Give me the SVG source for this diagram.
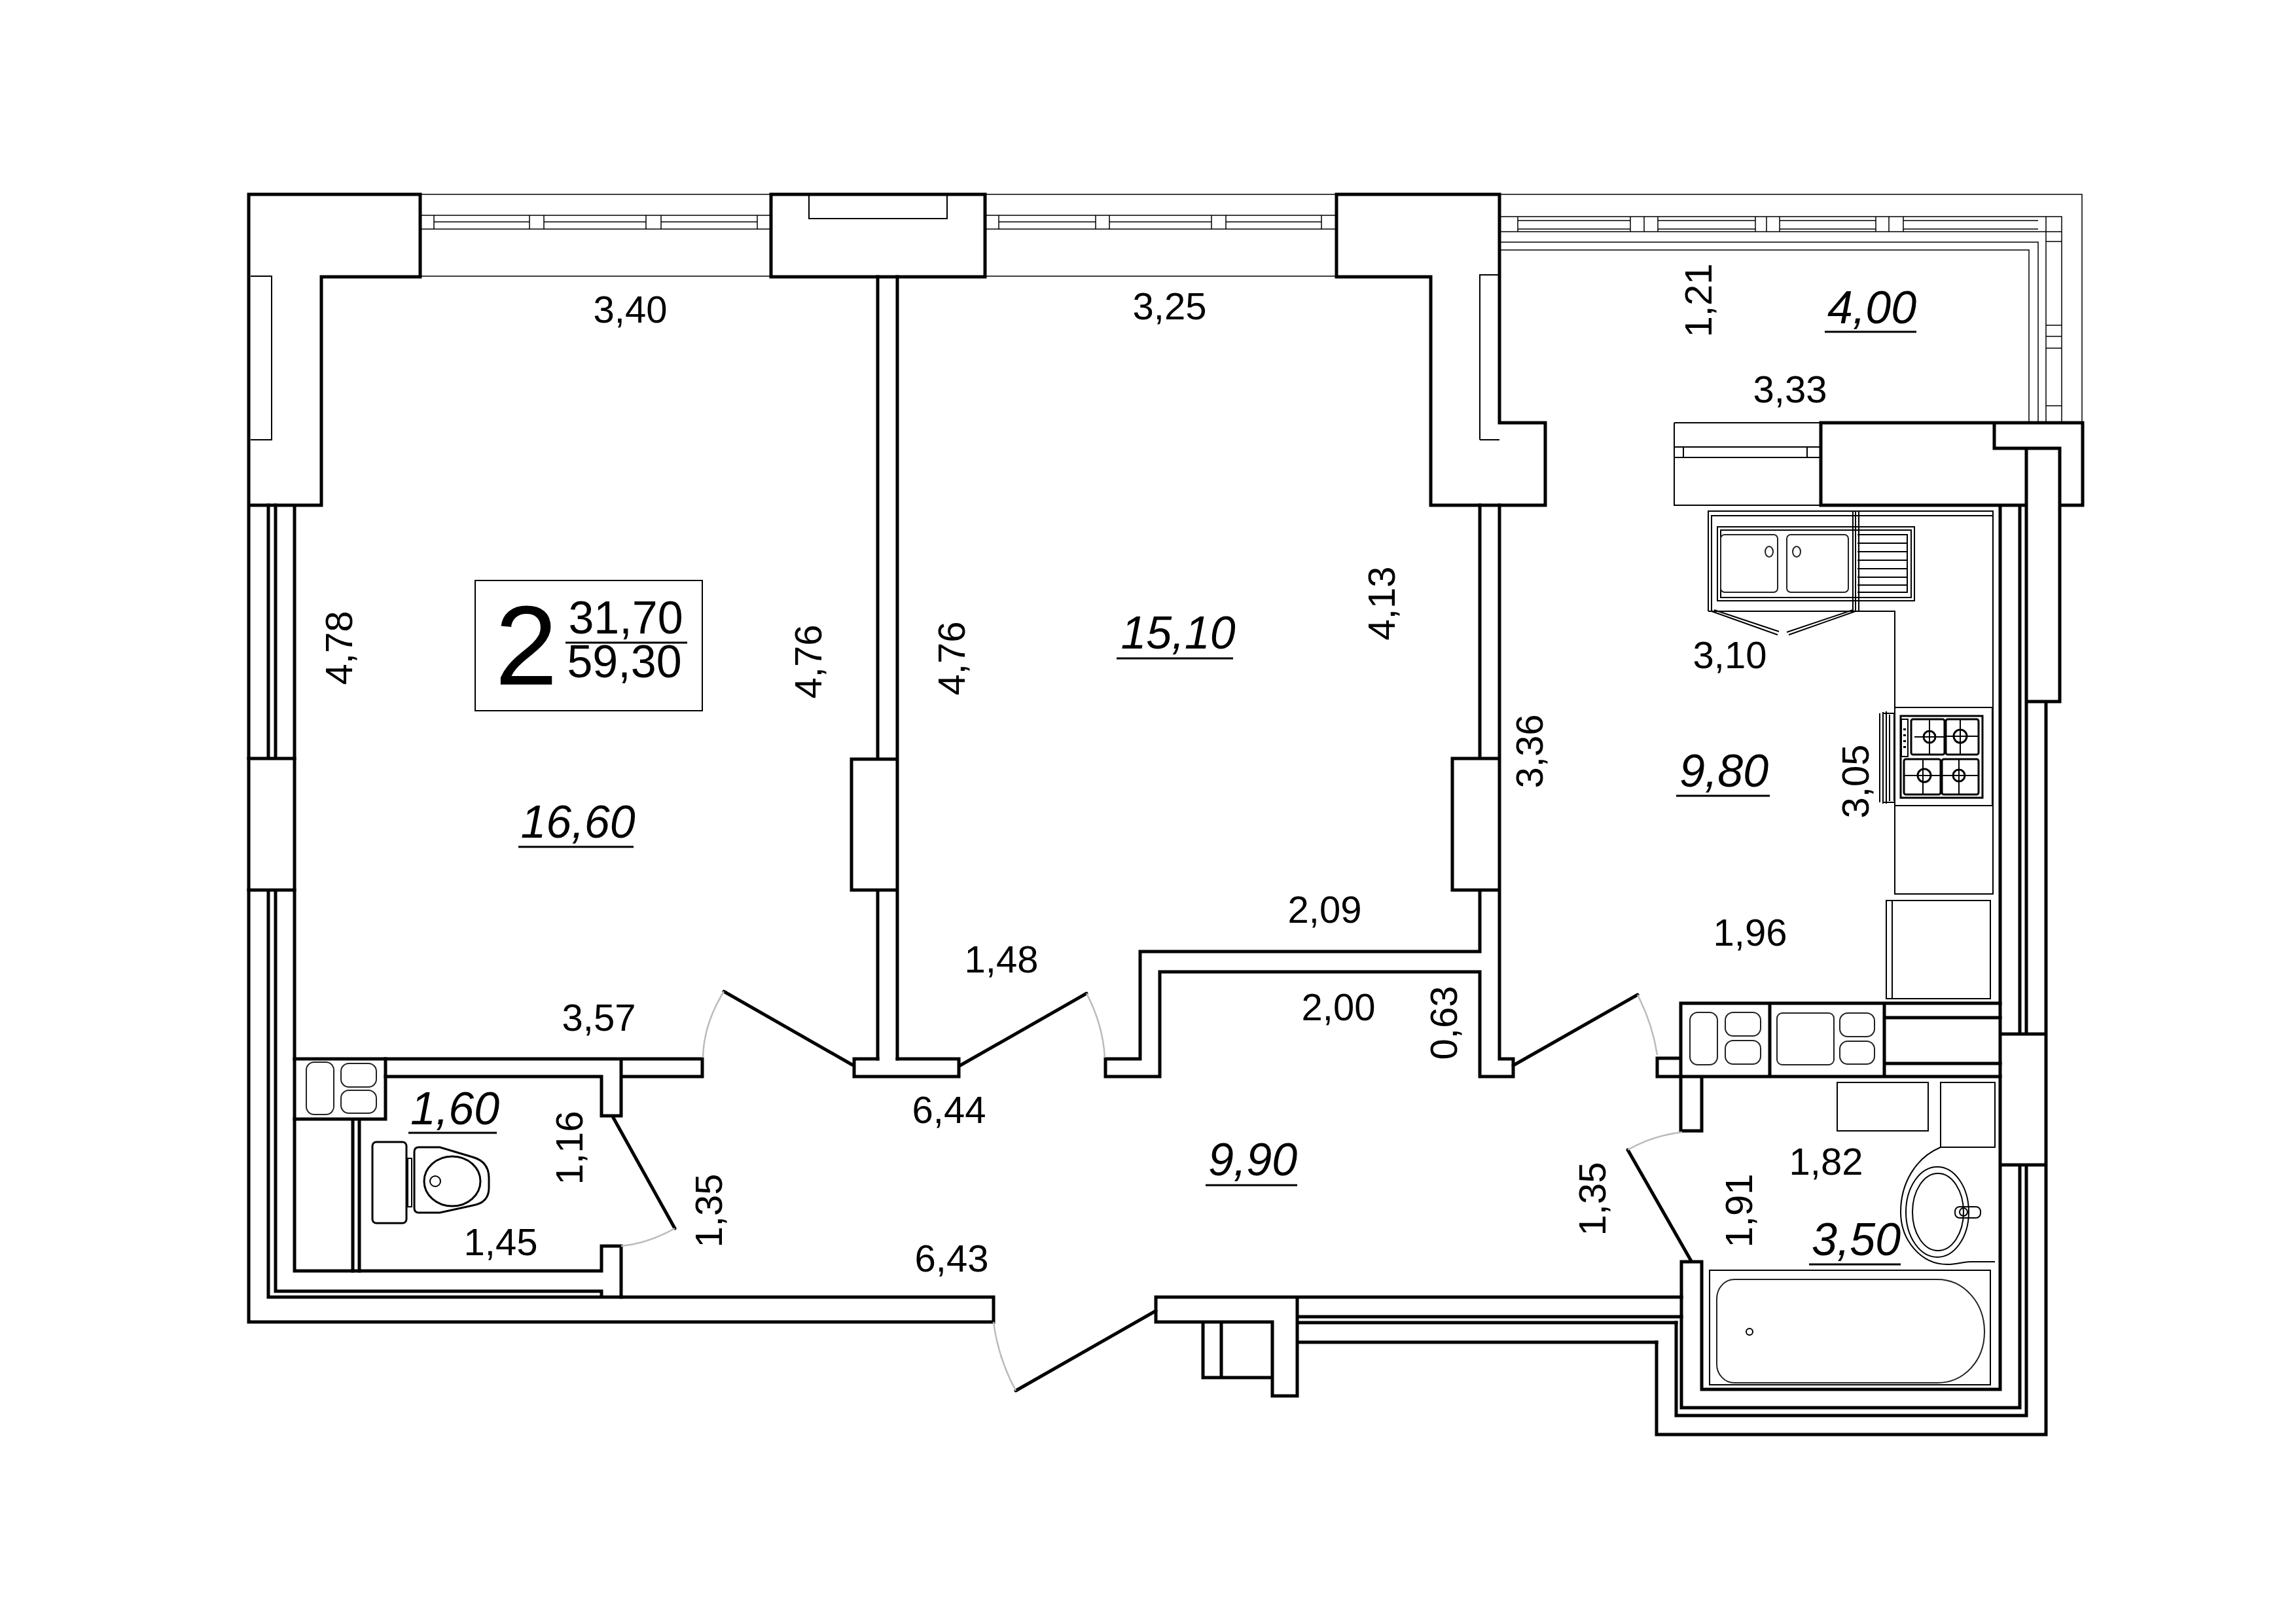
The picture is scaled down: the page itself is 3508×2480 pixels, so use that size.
<svg xmlns="http://www.w3.org/2000/svg" width="3508" height="2480" viewBox="0 0 3508 2480">
<style>
.w{fill:none;stroke:#000;stroke-width:5;stroke-linejoin:miter;stroke-linecap:square}
.m{fill:none;stroke:#000;stroke-width:3}
.t{fill:none;stroke:#000;stroke-width:2}
.h{fill:none;stroke:#000;stroke-width:1.5}
.f{fill:none;stroke:#222;stroke-width:2}
.a{fill:none;stroke:#bbb;stroke-width:2.5}
.d{fill:none;stroke:#000;stroke-width:5;stroke-linecap:round}
.l{font-family:"Liberation Sans",Arial,sans-serif;font-size:58px;fill:#000;text-anchor:middle}
.r{font-family:"Liberation Sans",Arial,sans-serif;font-size:70px;font-style:italic;fill:#000;text-anchor:middle}
.n{font-family:"Liberation Sans",Arial,sans-serif;font-size:70px;fill:#000;text-anchor:middle}
</style>
<rect width="3508" height="2480" fill="#fff"/>
<g id="windows">
<path class="h" d="M642,297H1178M642,422H1178M642,329H1178M642,350H1178M663,329V350M809,329V350M831,329V350M987,329V350M1010,329V350M1157,329V350M663,339H809M831,339H987M1010,339H1157"/>
<path class="h" d="M1505,297H2042M1505,422H2042M1505,329H2042M1505,350H2042M1526,329V350M1674,329V350M1695,329V350M1851,329V350M1873,329V350M2019,329V350M1526,339H1674M1695,339H1851M1873,339H2019"/>
<path class="t" d="M383,422H415V672H383M2261,672V420H2291M2261,672H2291M1236,297V334H1447V297"/>
<path class="h" d="M2291,297H3181V646M2291,331H3150V646M2291,354H3150M3126,331V646M2291,370H3114V646M2291,382H3100V646M2319,331V354M2491,331V354M2512,331V354M2533,331V354M2682,331V354M2699,331V354M2719,331V354M2866,331V354M2886,331V354M2908,331V354M2319,337H2491M2533,337H2682M2719,337H2866M2908,337H3114M2319,350H2491M2533,350H2682M2719,350H2866M2908,350H3114M3126,369H3150M3126,497H3150M3126,514H3150M3126,532H3150M3126,620H3150"/>
<path class="t" d="M2558,646H2782M2558,646V772H2782M2558,683H2782M2558,699H2782M2572,683V699M2761,683V699"/>
</g>
<g id="walls">
<path class="w" d="M642,297H380V2020H1518V1982H949V1904H919V1942H450V772M491,772H380M491,772V423H642V297"/>
<path class="w" d="M1178,297H1505V423H1178ZM2042,297H2291V646H2361V772H2186V423H2042Z"/>
<path class="w" d="M410,772V1159M421,772V1159M380,1159H450M380,1360H450M410,1360V1982H949M421,1360V1973H919V1981"/>
<path class="w" d="M1341,423V1160H1301V1360H1341V1618M1371,423V1618M1301,1160H1371M1301,1360H1371"/>
<path class="w" d="M450,1618H1073V1645H949M949,1618V1705H919V1645H589M1341,1618H1305V1645H1465V1618H1371"/>
<path class="w" d="M450,1710H589M589,1618V1710M539,1710V1942M549,1710V1942"/>
<path class="w" d="M1689,1618V1645H1772V1485H2261V1645H2312V1618H2291V772M1689,1618H1742V1454H2261V1360H2219V1159H2261V772M2219,1159H2291M2219,1360H2291"/>
<path class="w" d="M2782,646H3047V685H3096V772H2782ZM3047,646H3182V772H3147V685H3047M3096,772V1072H3147V772M3056,772V2123H2600V1928H2569V2151H3086V1780M3086,772V1580M3096,1072V1580M3126,1072V1580M3056,1580H3126V1780H3056M3096,1780V2163H2561V2021M3126,1780V2192H2531V2051"/>
<path class="w" d="M2568,1533H3056M2568,1533V1728H2600V1645M2568,1645H3056M2532,1617H2568M2532,1617V1645H2568M2704,1533V1645M2879,1533V1645M2881,1555H3056M2881,1625H3056"/>
<path class="w" d="M1766,1982H2569M1766,1982V2020H1944V2133H1982V1982M1982,2012H2569M1982,2021H2561M1982,2051H2531M1838,2020V2105H1944M1866,2020V2105"/>
</g>
<g id="doors">
<path class="d" d="M1302,1627L1106,1515M1467,1628L1660,1518M2312,1628L2502,1520M1766,2003L1552,2125"/>
<path class="d" d="M936,1706L1031,1877M2584,1927L2487,1757"/>
<path class="a" d="M1106,1515Q1075,1565 1074,1616M1660,1518Q1685,1565 1688,1616M2502,1520Q2525,1565 2532,1612M1552,2125Q1525,2075 1518,2020M1031,1877Q990,1900 949,1904M2487,1757Q2525,1735 2570,1730"/>
</g>
<g id="kitchen">
<path class="t" d="M2610,934V781H3045V1366H2895V934H2610M2615,934V788H3045"/>
<path class="t" d="M2831,781V934M2835,781V934M2840,781V934"/>
<rect class="t" x="2624" y="805" width="301" height="113"/>
<rect class="t" x="2629" y="810" width="291" height="103"/>
<rect class="f" x="2629" y="817" width="87" height="88" rx="6"/>
<rect class="f" x="2730" y="817" width="94" height="88" rx="6"/>
<ellipse class="f" cx="2703" cy="843" rx="6" ry="8"/><ellipse class="f" cx="2745" cy="843" rx="6" ry="8"/>
<path class="t" d="M2838,817H2914V905H2838M2838,830H2914M2838,843H2914M2838,856H2914M2838,869H2914M2838,882H2914M2838,894H2914M2914,817V905"/>
<path class="t" d="M2615,934L2716,970M2619,932L2718,965M2835,934L2733,970M2831,932L2730,966"/>
<rect class="t" x="2895" y="1081" width="149" height="150"/>
<rect class="m" x="2904" y="1094" width="125" height="125"/>
<rect class="m" x="2920" y="1099" width="51" height="54" rx="3"/><rect class="m" x="2973" y="1099" width="50" height="54" rx="3"/>
<rect class="m" x="2909" y="1160" width="56" height="54" rx="3"/><rect class="m" x="2967" y="1160" width="56" height="54" rx="3"/>
<path class="t" d="M2948,1099V1153M2925,1126H2971M2995,1099V1153M2973,1125H3023M2938,1160V1214M2909,1185H2965M2993,1160V1214M2967,1185H3023"/>
<circle class="m" cx="2948" cy="1126" r="9"/><circle class="m" cx="2995" cy="1125" r="10"/><circle class="m" cx="2940" cy="1185" r="10"/><circle class="m" cx="2993" cy="1185" r="9"/>
<rect class="t" x="2905" y="1099" width="10" height="57"/>
<path d="M2910,1113v3M2910,1122v3M2910,1131v3M2910,1140v3" stroke="#000" stroke-width="4" fill="none"/>
<path class="t" d="M2872,1090V1226M2877,1088V1228M2882,1087V1228M2887,1092V1224M2894,1090V1224M2877,1090H2894M2877,1226H2894"/>
<path class="t" d="M2882,1376H3041V1526H2882ZM2891,1376V1526"/>
<rect class="f" x="2582" y="1547" width="42" height="80" rx="12"/>
<rect class="f" x="2636" y="1547" width="54" height="36" rx="12"/><rect class="f" x="2636" y="1590" width="54" height="36" rx="12"/>
<rect class="f" x="2715" y="1548" width="87" height="79" rx="8"/>
<rect class="f" x="2811" y="1548" width="53" height="36" rx="12"/><rect class="f" x="2811" y="1591" width="53" height="35" rx="12"/>
</g>
<g id="bath">
<rect class="t" x="2807" y="1654" width="139" height="74"/>
<rect class="t" x="2965" y="1654" width="83" height="99"/>
<path class="t" d="M2965,1753H3048M2965,1753C2925,1770 2904,1810 2904,1852C2904,1895 2935,1932 2975,1932C2990,1932 3000,1928 3010,1928H3048"/>
<ellipse class="t" cx="2960" cy="1852" rx="48" ry="69"/><ellipse class="t" cx="2961" cy="1852" rx="39" ry="59"/>
<rect class="t" x="2987" y="1844" width="39" height="17" rx="7"/><circle class="t" cx="3000" cy="1852" r="6"/>
<rect class="t" x="2612" y="1941" width="429" height="175"/>
<path class="f" d="M2650,1955H2960C3000,1955 3032,1990 3032,2035C3032,2080 3000,2113 2960,2113H2650C2635,2113 2623,2100 2623,2085V1985C2623,1968 2635,1955 2650,1955Z"/>
<circle class="t" cx="2673" cy="2035" r="5"/>
</g>
<g id="wc">
<rect class="f" x="468" y="1623" width="42" height="80" rx="12"/>
<rect class="f" x="521" y="1625" width="54" height="36" rx="12"/><rect class="f" x="521" y="1666" width="54" height="35" rx="12"/>
<rect class="m" x="569" y="1745" width="52" height="124" rx="6"/>
<rect class="t" x="623" y="1770" width="6" height="74"/>
<path class="m" d="M640,1753H672L722,1768Q747,1775 747,1800V1815Q747,1838 722,1842L672,1853H640Q633,1853 633,1846V1760Q633,1753 640,1753Z"/>
<ellipse class="m" cx="691" cy="1805" rx="43" ry="38"/>
<circle class="t" cx="665" cy="1805" r="8"/>
</g>
<g id="legend">
<rect x="726" y="887" width="347" height="199" fill="#fff" stroke="#000" stroke-width="2"/>
<text x="804" y="1046" font-family="'Liberation Sans',Arial,sans-serif" font-size="172" text-anchor="middle">2</text>
<text class="n" x="956" y="968">31,70</text>
<path d="M864,982H1050" stroke="#000" stroke-width="3"/>
<text class="n" x="954" y="1035">59,30</text>
</g>
<g id="area-labels">
<text class="r" x="883" y="1280">16,60</text><path class="m" d="M792,1294H968"/>
<text class="r" x="1800" y="991">15,10</text><path class="m" d="M1706,1006H1884"/>
<text class="r" x="2860" y="494">4,00</text><path class="m" d="M2788,507H2928"/>
<text class="r" x="2634" y="1202">9,80</text><path class="m" d="M2561,1216H2704"/>
<text class="r" x="1914" y="1796">9,90</text><path class="m" d="M1842,1811H1982"/>
<text class="r" x="2836" y="1918">3,50</text><path class="m" d="M2764,1932H2904"/>
<text class="r" x="695" y="1718">1,60</text><path class="m" d="M624,1731H759"/>
</g>
<g id="dimension-labels">
<text class="l" x="963" y="493">3,40</text>
<text class="l" x="1787" y="488">3,25</text>
<text class="l" x="2735" y="615">3,33</text>
<text class="l" x="2643" y="1021">3,10</text>
<text class="l" x="2674" y="1445">1,96</text>
<text class="l" x="2790" y="1795">1,82</text>
<text class="l" x="1450" y="1716">6,44</text>
<text class="l" x="1454" y="1943">6,43</text>
<text class="l" x="2024" y="1410">2,09</text>
<text class="l" x="1530" y="1486">1,48</text>
<text class="l" x="2045" y="1559">2,00</text>
<text class="l" x="915" y="1575">3,57</text>
<text class="l" x="765" y="1918">1,45</text>
<text class="l" transform="translate(538,990) rotate(-90)">4,78</text>
<text class="l" transform="translate(1255,1011) rotate(-90)">4,76</text>
<text class="l" transform="translate(1474,1006) rotate(-90)">4,76</text>
<text class="l" transform="translate(2131,922) rotate(-90)">4,13</text>
<text class="l" transform="translate(2357,1148) rotate(-90)">3,36</text>
<text class="l" transform="translate(2615,459) rotate(-90)">1,21</text>
<text class="l" transform="translate(2855,1194) rotate(-90)">3,05</text>
<text class="l" transform="translate(2677,1850) rotate(-90)">1,91</text>
<text class="l" transform="translate(2453,1832) rotate(-90)">1,35</text>
<text class="l" transform="translate(2226,1563) rotate(-90)">0,63</text>
<text class="l" transform="translate(890,1754) rotate(-90)">1,16</text>
<text class="l" transform="translate(1103,1850) rotate(-90)">1,35</text>
</g>
</svg>
